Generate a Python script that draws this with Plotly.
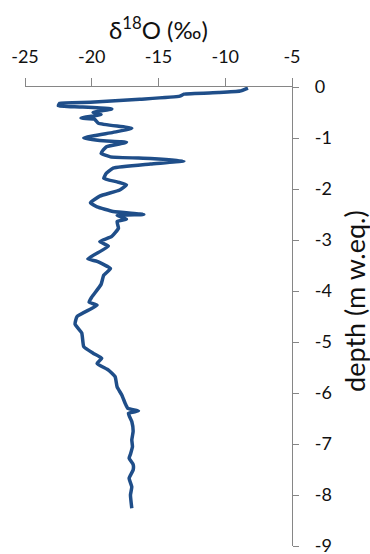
import plotly.graph_objects as go

# d18O values (per mil) and depth (m w.eq.)
d18o = [-8.3, -8.9, -10.5, -13.1, -13.4, -16.4, -20.1, -22.4, -22.5, -20.9,
        -18.5, -19.9, -19.3, -20.8, -19.8, -19.5, -17.0, -18.4, -20.6, -19.4,
        -17.4, -17.6, -18.9, -19.3, -18.6, -15.6, -13.1, -15.6, -18.4, -18.9,
        -19.1, -18.1, -17.4, -17.9, -19.4, -20.1, -19.6, -18.4, -16.1, -18.1,
        -17.4, -18.1, -18.0, -18.5, -19.4, -18.75, -20.3, -19.6, -18.6, -19.1,
        -19.3, -20.0, -20.2, -19.6, -21.1, -21.25, -20.75, -20.6, -19.9, -19.25,
        -19.6, -18.75, -18.25, -18.1, -17.75, -17.5, -17.3, -16.5, -17.25, -17.0,
        -16.9, -17.0, -16.95, -17.1, -17.2, -16.9, -16.9, -17.2, -17.0, -17.1,
        -17.0]
depth = [-0.02, -0.08, -0.11, -0.14, -0.18, -0.24, -0.30, -0.32, -0.37, -0.39,
         -0.43, -0.50, -0.54, -0.61, -0.63, -0.71, -0.81, -0.89, -1.00, -1.05,
         -1.08, -1.10, -1.17, -1.30, -1.37, -1.40, -1.45, -1.51, -1.59, -1.69,
         -1.79, -1.86, -1.92, -2.02, -2.14, -2.27, -2.35, -2.44, -2.50, -2.52,
         -2.59, -2.64, -2.77, -2.93, -3.03, -3.12, -3.37, -3.42, -3.56, -3.69,
         -3.87, -4.12, -4.22, -4.28, -4.50, -4.65, -4.82, -5.09, -5.22, -5.32,
         -5.42, -5.55, -5.68, -5.88, -6.04, -6.20, -6.30, -6.35, -6.40, -6.56,
         -6.75, -6.92, -7.05, -7.20, -7.28, -7.40, -7.51, -7.67, -7.84, -8.00,
         -8.26]

x_ticks = [-25, -20, -15, -10, -5]
x_ticktext = ["-25", "-20", "-15", "-10", "-5"]
y_ticks = [0, -1, -2, -3, -4, -5, -6, -7, -8, -9]
y_ticktext = ["0", "-1", "-2", "-3", "-4", "-5", "-6", "-7", "-8", "-9"]
x_title = "δ<sup>18</sup>O (‰)"
y_title = "depth (m w.eq.)"

FONT = "Lato, 'Open Sans', sans-serif"
AXIS = "#868686"
TXT = "#111"

fig = go.Figure()
fig.add_trace(go.Scatter(x=d18o, y=depth, mode="lines",
                         line=dict(color="#1F4E89", width=3.5, shape="spline", smoothing=0.4),
                         showlegend=False, hoverinfo="skip"))

fig.update_layout(
    width=370, height=554,
    margin=dict(l=25, r=78, t=87, b=8),
    paper_bgcolor="white", plot_bgcolor="white",
    font=dict(family=FONT, color=TXT),
    xaxis=dict(side="top", range=[-25, -5], tickvals=x_ticks, ticktext=x_ticktext,
               ticks="outside", ticklen=8, tickcolor=AXIS, tickwidth=1,
               showline=True, linecolor=AXIS, linewidth=1.3,
               showgrid=False, zeroline=False, automargin=False,
               tickfont=dict(size=18, family=FONT, color=TXT),
               ticklabelstandoff=8, ticklabeloverflow="allow"),
    yaxis=dict(side="right", range=[-9, 0], tickvals=y_ticks, ticktext=y_ticktext,
               ticks="outside", ticklen=6, tickcolor=AXIS, tickwidth=1,
               showline=True, linecolor=AXIS, linewidth=1.3,
               showgrid=False, zeroline=False, automargin=False,
               tickfont=dict(size=18, family=FONT, color=TXT),
               ticklabelstandoff=12, ticklabeloverflow="allow"),
    annotations=[
        dict(text=x_title, xref="paper", yref="paper", x=0.5, y=1.128,
             xanchor="center", yanchor="middle", showarrow=False,
             font=dict(size=24, family=FONT, color=TXT)),
        dict(text=y_title, xref="paper", yref="paper", x=1.234, y=0.535,
             xanchor="center", yanchor="middle", showarrow=False, textangle=-90,
             font=dict(size=27, family=FONT, color=TXT)),
    ],
)

fig.write_html("out.html", config={"displayModeBar": False},
               post_script="document.body.style.margin='0';document.body.style.overflow='hidden';")
